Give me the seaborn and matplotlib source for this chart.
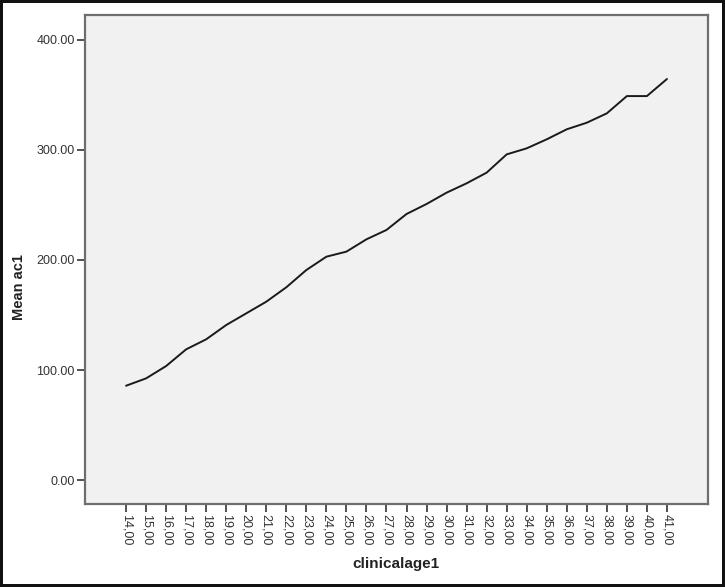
import matplotlib
matplotlib.use("Agg")
import matplotlib.pyplot as plt
import seaborn as sns
import pandas as pd

ages = [14, 15, 16, 17, 18, 19, 20, 21, 22, 23, 24, 25, 26, 27,
        28, 29, 30, 31, 32, 33, 34, 35, 36, 37, 38, 39, 40, 41]
mean_ac1 = [85.7, 92.4, 103.6, 118.8, 127.9, 140.9, 151.5, 162.1, 175.2, 190.9,
            203.0, 207.6, 218.8, 227.3, 241.8, 250.9, 261.2, 269.7, 279.4, 296.0,
            301.5, 309.7, 318.8, 324.8, 333.3, 349.0, 349.0, 364.5]
x_tick_labels = [f"{a},00" for a in ages]
y_ticks = [0, 100, 200, 300, 400]
y_tick_labels = ["0.00", "100.00", "200.00", "300.00", "400.00"]
x_label = "clinicalage1"
y_label = "Mean ac1"

df = pd.DataFrame({"clinicalage1": ages, "Mean ac1": mean_ac1})

sns.set_style("white")
plt.rcParams["font.family"] = ["Liberation Sans", "DejaVu Sans"]

W, H = 725, 587
fig = plt.figure(figsize=(W / 100, H / 100), dpi=100,
                 facecolor="white", edgecolor="#111111", linewidth=3)
ax = fig.add_axes([85 / W, 1 - 504 / H, (708 - 85) / W, (504 - 15) / H])
ax.set_facecolor("#f1f1f1")

sns.lineplot(data=df, x="clinicalage1", y="Mean ac1", ax=ax,
             color="#1a1a1a", linewidth=1.4)

ax.set_xlim(11.95, 43.05)
ax.set_ylim(-21.8, 422.7)
ax.set_xticks(ages)
ax.set_xticklabels(x_tick_labels, rotation=270, fontsize=9, color="#333333")
ax.set_yticks(y_ticks)
ax.set_yticklabels(y_tick_labels, fontsize=9, color="#333333")
ax.tick_params(axis="both", which="major", length=6, width=1.2,
               color="#333333", pad=1.5, direction="out",
               bottom=True, left=True)

for s in ax.spines.values():
    s.set_color("#6e6e6e")
    s.set_linewidth(1.6)

ax.set_xlabel(x_label, fontsize=11, fontweight="bold", color="#222222")
ax.set_ylabel(y_label, fontsize=10.5, fontweight="bold", color="#222222")
ax.xaxis.set_label_coords((396 - 85) / 623, -(557 - 504) / 489)
ax.yaxis.set_label_coords(-(85 - 26) / 623, (504 - 287) / 489)

fig.savefig("out.png", dpi=100, facecolor="white", edgecolor=fig.get_edgecolor())
